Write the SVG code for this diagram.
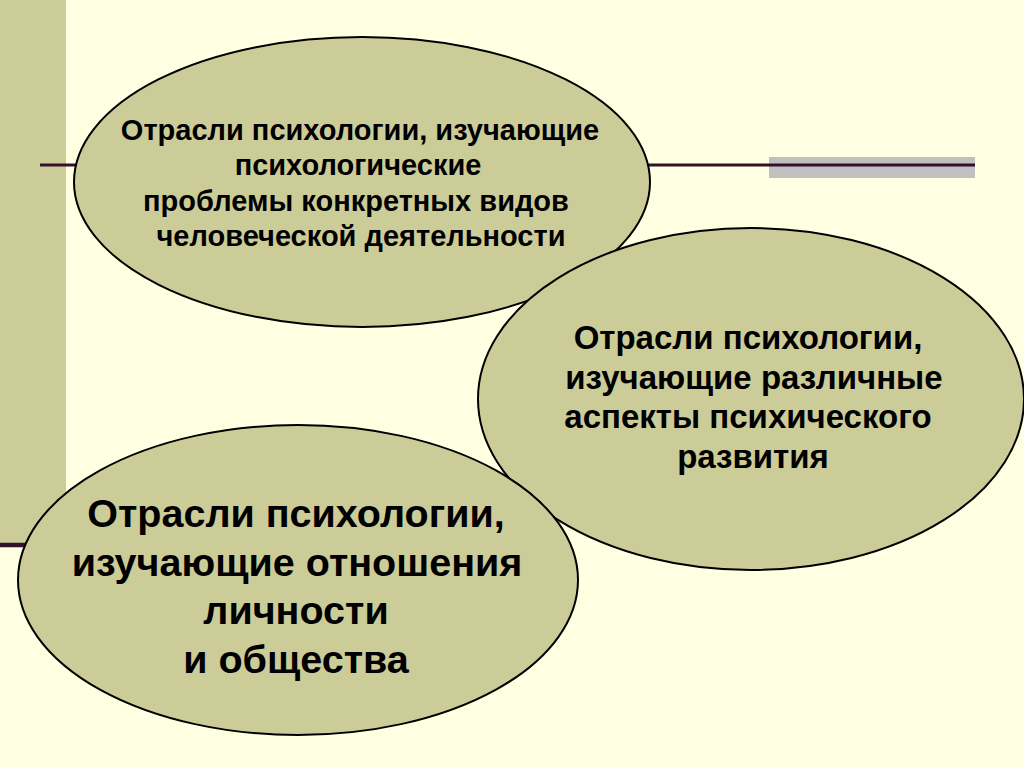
<svg xmlns="http://www.w3.org/2000/svg" width="1024" height="767" viewBox="0 0 1024 767">
  <style>
    .oval { fill: #CCCC99; stroke: #000000; stroke-width: 2; }
    .t { font-family: "Liberation Sans", Arial, sans-serif; font-weight: bold; fill: #000000; text-anchor: middle; }
    .t1 { font-size: 29px; }
    .t2 { font-size: 33px; }
    .t3 { font-size: 39.5px; }
  </style>
  <rect x="0" y="0" width="1024" height="767" fill="#FFFFE1"/>
  <g id="decor">
    <rect x="0" y="0" width="66" height="543" fill="#CCCC99"/>
    <rect x="769" y="157" width="206" height="21" fill="#C0C0C0"/>
    <line x1="40" y1="165" x2="975" y2="165" stroke="#33112A" stroke-width="3"/>
    <line x1="0" y1="545" x2="60" y2="545" stroke="#33112A" stroke-width="4.5"/>
  </g>
  <g id="node-activity">
    <ellipse class="oval" cx="362" cy="182" rx="288" ry="145"/>
    <text class="t t1" x="360" y="140">Отрасли психологии, изучающие</text>
    <text class="t t1" x="358" y="175">психологические</text>
    <text class="t t1" x="356" y="211">проблемы конкретных видов</text>
    <text class="t t1" x="361" y="246">человеческой деятельности</text>
  </g>
  <g id="node-development">
    <ellipse class="oval" cx="751" cy="399" rx="273" ry="171"/>
    <text class="t t2" x="748" y="349">Отрасли психологии,</text>
    <text class="t t2" x="754" y="389">изучающие различные</text>
    <text class="t t2" x="748" y="428">аспекты психического</text>
    <text class="t t2" x="753" y="468">развития</text>
  </g>
  <g id="node-society">
    <ellipse class="oval" cx="298" cy="580" rx="280" ry="155"/>
    <text class="t t3" x="296" y="527">Отрасли психологии,</text>
    <text class="t t3" x="297" y="576">изучающие отношения</text>
    <text class="t t3" x="296" y="624">личности</text>
    <text class="t t3" x="296" y="673">и общества</text>
  </g>
  <g id="connectors"></g>
</svg>
